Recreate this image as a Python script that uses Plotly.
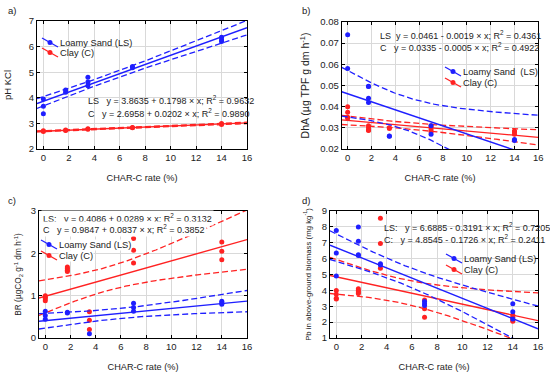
import numpy as np
import plotly.graph_objects as go

# ---------------- data ----------------
rates = [0, 1.75, 3.5, 7, 14]

# panel a: pH KCl
a_ls_x = [0, 0, 0, 1.75, 1.75, 3.5, 3.5, 3.5, 7, 7, 14, 14, 14]
a_ls_y = [3.95, 3.67, 3.38, 4.3, 4.22, 4.8, 4.62, 4.47, 5.22, 5.17, 6.37, 6.27, 6.2]
a_c_x = [0, 0, 1.75, 1.75, 3.5, 3.5, 7, 7, 14, 14]
a_c_y = [2.71, 2.68, 2.74, 2.72, 2.79, 2.77, 2.84, 2.83, 3.0, 2.96]
a_coef = {"LS": (3.8635, 0.1798), "C": (2.6958, 0.0202)}

# panel b: DhA
b_ls_x = [0, 0, 1.75, 1.75, 1.75, 1.75, 3.5, 3.5, 7, 7, 14, 14]
b_ls_y = [0.074, 0.058, 0.0497, 0.0495, 0.044, 0.042, 0.0262, 0.026, 0.031, 0.027, 0.0245, 0.024]
b_c_x = [0, 0, 0, 0, 1.75, 1.75, 1.75, 1.75, 3.5, 3.5, 7, 7, 7, 7, 14, 14, 14]
b_c_y = [0.040, 0.0374, 0.035, 0.0345, 0.031, 0.030, 0.029, 0.0287, 0.0297, 0.030,
         0.031, 0.030, 0.029, 0.028, 0.0285, 0.028, 0.027]
b_coef = {"LS": (0.0461, -0.0019), "C": (0.0335, -0.0005)}

# panel c: BR
c_ls_x = [0, 0, 0, 1.75, 1.75, 3.5, 7, 7, 7, 14, 14, 14]
c_ls_y = [0.63, 0.53, 0.44, 0.61, 0.59, 0.1, 0.82, 0.72, 0.63, 0.87, 0.83, 0.8]
c_c_x = [0, 0, 0, 0, 1.75, 1.75, 1.75, 1.75, 3.5, 3.5, 3.5, 7, 7, 7, 14, 14, 14]
c_c_y = [1.0, 0.96, 0.93, 0.88, 1.68, 1.64, 1.6, 1.57, 0.62, 0.42, 0.2, 2.35, 2.07, 1.77, 2.27, 2.05, 1.85]
c_coef = {"LS": (0.4086, 0.0289), "C": (0.9847, 0.0837)}

# panel d: Pb
d_ls_x = [0, 0, 0, 1.75, 1.75, 1.75, 1.75, 3.5, 3.5, 7, 7, 7, 14, 14, 14]
d_ls_y = [7.77, 6.35, 4.9, 8.0, 7.1, 6.25, 6.2, 5.68, 5.6, 3.3, 3.15, 3.05, 3.15, 2.65, 2.2]
d_c_x = [0, 0, 0, 0, 1.75, 1.75, 1.75, 1.75, 3.5, 3.5, 3.5, 7, 7, 7, 14, 14, 14, 14]
d_c_y = [4.0, 3.75, 3.5, 3.45, 4.1, 4.0, 3.9, 3.8, 8.55, 6.95, 5.4, 3.4, 2.85, 2.3, 2.45, 2.3, 2.15, 2.05]
d_coef = {"LS": (6.6885, -0.3191), "C": (4.8545, -0.1726)}

eq_a = ["LS   y = 3.8635 + 0.1798 × x; R<sup>2</sup> = 0.9632",
        "C   y = 2.6958 + 0.0202 × x; R<sup>2</sup> = 0.9890"]
eq_b = ["LS  y = 0.0461 - 0.0019 × x; R<sup>2</sup> = 0.4361",
        "C   y = 0.0335 - 0.0005 × x; R<sup>2</sup> = 0.4922"]
eq_c = ["LS:   y = 0.4086 + 0.0289 × x; R<sup>2</sup> = 0.3132",
        "C   y = 0.9847 + 0.0837 × x; R<sup>2</sup> = 0.3852"]
eq_d = ["LS:   y = 6.6885 - 0.3191 × x; R<sup>2</sup> = 0.7205",
        "C:   y = 4.8545 - 0.1726 × x; R<sup>2</sup> = 0.2411"]

ytitles = ["pH KCl", "DhA (µg TPF g dm h<sup>-1</sup>)",
           "BR (µgCO<sub>2</sub> g<sup>-1</sup> dm h<sup>-1</sup>)",
           "Pb in above-ground biomass (mg kg<sup>-1</sup>)"]
xtitle = "CHAR-C rate (%)"
ls_names = ["Loamy Sand (LS)", "Loamy Sand  (LS)", "Loamy Sand (LS)", "Loamy Sand (LS)"]
c_name = "Clay (C)"

BLUE = "#1f1fff"
RED = "#ff2222"
W, H = 550, 377
FONT = "Liberation Sans, Arial, sans-serif"
TXT = "#222"

T975 = {8: 2.306, 9: 2.262, 10: 2.228, 11: 2.201, 12: 2.179, 13: 2.160, 14: 2.145,
        15: 2.131, 16: 2.120, 17: 2.110, 18: 2.101, 19: 2.093, 20: 2.086}


def band(xs, ys, coef, xg):
    xs = np.asarray(xs, float); ys = np.asarray(ys, float)
    b0, b1 = coef
    n = len(xs)
    res = ys - (b0 + b1 * xs)
    s = np.sqrt((res ** 2).sum() / (n - 2))
    xm = xs.mean(); sxx = ((xs - xm) ** 2).sum()
    t = T975.get(n - 2, 2.1)
    half = t * s * np.sqrt(1.0 / n + (xg - xm) ** 2 / sxx)
    fit = b0 + b1 * xg
    return fit, fit - half, fit + half


def px(x):
    return x / W


def py(y):
    return 1 - y / H


fig = go.Figure()
xg = np.linspace(-0.5, 16, 131)

panels = [
    dict(ls=(a_ls_x, a_ls_y), c=(a_c_x, a_c_y), coef=a_coef, eq=eq_a,
         xd=(37, 247), yd=(21, 149), yr=[2, 7], dt=1, fmt="", lab="a)", labpos=(6, 10),
         eqpos=(86, 100, 113), leg=(42, 43, 53), legbg=None, ytf=9.5, ystand=15),
    dict(ls=(b_ls_x, b_ls_y), c=(b_c_x, b_c_y), coef=b_coef, eq=eq_b,
         xd=(341.7, 538.3), yd=(22, 149), yr=[0.02, 0.08], dt=0.01, fmt=".2f", lab="b)", labpos=(300, 10),
         eqpos=(378, 35, 47), leg=(445, 72, 83), legbg=None, ytf=10.5, ystand=8),
    dict(ls=(c_ls_x, c_ls_y), c=(c_c_x, c_c_y), coef=c_coef, eq=eq_c,
         xd=(39, 247), yd=(211, 338), yr=[0, 3], dt=1, fmt="", lab="c)", labpos=(6, 200),
         eqpos=(41, 218, 229), leg=(41, 245, 256), legbg="white", ytf=8.3, ystand=7),
    dict(ls=(d_ls_x, d_ls_y), c=(d_c_x, d_c_y), coef=d_coef, eq=eq_d,
         xd=(330, 538), yd=(211, 338), yr=[1, 9], dt=1, fmt="", lab="d)", labpos=(300, 200),
         eqpos=(382, 227, 239), leg=(446, 259, 270), legbg=None, ytf=7.8, ystand=9),
]

annotations = []
shapes = []
for i, p in enumerate(panels):
    k = i + 1
    xa = "x" if k == 1 else f"x{k}"
    ya = "y" if k == 1 else f"y{k}"
    for key, col in (("C", RED), ("LS", BLUE)):
        xs, ys = p["ls"] if key == "LS" else p["c"]
        fit, lo, hi = band(xs, ys, p["coef"][key], xg)
        for arr in (lo, hi):
            fig.add_trace(go.Scatter(x=xg, y=arr, mode="lines", xaxis=xa, yaxis=ya,
                                     line=dict(color=col, width=1.3, dash="6px,3px"),
                                     showlegend=False, hoverinfo="skip"))
        fig.add_trace(go.Scatter(x=xg, y=fit, mode="lines", xaxis=xa, yaxis=ya,
                                 line=dict(color=col, width=1.4), showlegend=False))
        fig.add_trace(go.Scatter(x=xs, y=ys, mode="markers", xaxis=xa, yaxis=ya,
                                 marker=dict(color=col, size=5), showlegend=False))
    axis_common = dict(showline=True, linecolor="black", linewidth=1, mirror="allticks",
                       ticks="inside", ticklen=3, tickcolor="black",
                       showgrid=True, gridcolor="#d9d9d9", gridwidth=1, zeroline=False,
                       tickfont=dict(family=FONT, size=9.5, color=TXT),
                       automargin=False)
    fig.update_layout(**{
        ("xaxis" if k == 1 else f"xaxis{k}"): dict(
            domain=[px(p["xd"][0]), px(p["xd"][1])], anchor=ya, range=[-0.5, 16],
            tickmode="linear", tick0=0, dtick=2,
            title=dict(text=xtitle, standoff=12, font=dict(family=FONT, size=9.2, color=TXT)),
            **axis_common),
        ("yaxis" if k == 1 else f"yaxis{k}"): dict(
            domain=[py(p["yd"][1]), py(p["yd"][0])], anchor=xa, range=p["yr"],
            tickmode="linear", tick0=p["yr"][0], dtick=p["dt"], tickformat=p["fmt"],
            title=dict(text=ytitles[i], standoff=p["ystand"], font=dict(family=FONT, size=p["ytf"], color=TXT)),
            **axis_common),
    })
    # panel label
    annotations.append(dict(text=p["lab"], x=px(p["labpos"][0]), y=py(p["labpos"][1]),
                            xref="paper", yref="paper", xanchor="left", yanchor="middle",
                            showarrow=False, font=dict(family=FONT, size=9.5, color=TXT)))
    # equations
    for j, txt in enumerate(p["eq"]):
        annotations.append(dict(text=txt, x=px(p["eqpos"][0]), y=py(p["eqpos"][1 + j]),
                                xref="paper", yref="paper", xanchor="left", yanchor="middle",
                                showarrow=False, bgcolor=("white" if k == 3 else None),
                                borderpad=1,
                                font=dict(family=FONT, size=9.0, color=TXT)))
    # legend (symbol + text)
    x0, yb, yr_ = p["leg"]
    for yc, col, name in ((yb, BLUE, ls_names[i]), (yr_, RED, c_name)):
        shapes.append(dict(type="line", xref="paper", yref="paper",
                           x0=px(x0), y0=py(yc - 5), x1=px(x0 + 16), y1=py(yc + 4),
                           line=dict(color=col, width=1.3), layer="above"))
        shapes.append(dict(type="circle", xref="paper", yref="paper",
                           x0=px(x0 + 8 - 2.5), x1=px(x0 + 8 + 2.5),
                           y0=py(yc - 0.5 - 2.5), y1=py(yc - 0.5 + 2.5),
                           fillcolor=col, line=dict(color=col, width=0), layer="above"))
        annotations.append(dict(text=name, x=px(x0 + 17), y=py(yc), xref="paper", yref="paper",
                                xanchor="left", yanchor="middle", showarrow=False,
                                bgcolor=p["legbg"], borderpad=0,
                                font=dict(family=FONT, size=9.3, color=TXT)))

fig.update_layout(width=W, height=H, margin=dict(l=0, r=0, t=0, b=0),
                  paper_bgcolor="white", plot_bgcolor="white", template="none",
                  annotations=annotations, shapes=shapes, showlegend=False)
fig.write_html("out.html", config={"displayModeBar": False},
               post_script="document.body.style.margin='0';document.body.style.overflow='hidden';")
